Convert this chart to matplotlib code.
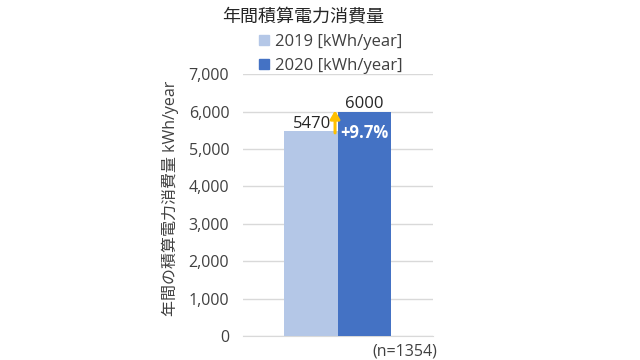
import matplotlib
matplotlib.use("Agg")
import matplotlib.pyplot as plt
from matplotlib.patches import Patch

plt.rcParams['font.family'] = ['Open Sans', 'Noto Sans CJK JP', 'DejaVu Sans']

years = ["2019 [kWh/year]", "2020 [kWh/year]"]
values = [5470, 6000]
colors = ["#B4C7E7", "#4472C4"]
change_label = "+9.7%"
yticks = [0, 1000, 2000, 3000, 4000, 5000, 6000, 7000]
title = "年間積算電力消費量"
ylabel = "年間の積算電力消費量 kWh/year"
note = "(n=1354)"

fig = plt.figure(figsize=(6.4, 3.6), dpi=100)
ax = fig.add_axes([0.380, 0.0667, 0.297, 0.7273])

xs = [0, 1]
ax.bar(xs, values, width=1.0, color=colors, zorder=3)
ax.set_xlim(-1.259, 2.278)
ax.set_ylim(0, 7000)
ax.set_yticks(yticks)
ax.set_yticklabels([f"{v:,}" for v in yticks], fontsize=11.5, color="#404040")
ax.set_xticks([])
ax.grid(axis="y", color="#D9D9D9", linewidth=1, zorder=0)
for s in ["top", "right", "left"]:
    ax.spines[s].set_visible(False)
ax.spines["bottom"].set_color("#D9D9D9")
ax.tick_params(axis="y", length=0, pad=10)
ax.set_ylabel(ylabel, fontsize=11.5, color="#404040")
ax.yaxis.set_label_coords(-0.337, 0.527)

# value labels
ax.text(0.37, values[0] + 100, str(values[0]), ha="right", va="baseline", fontsize=12, color="#262626")
ax.text(1.0, values[1] + 100, str(values[1]), ha="center", va="baseline", fontsize=12, color="#262626")
ax.text(1.0, values[1] - 580, change_label, ha="center", va="center", fontsize=12,
        color="white", fontweight="bold")
ax.annotate("", xy=(0.45, values[1] + 30), xytext=(0.45, values[0] - 40),
            arrowprops=dict(arrowstyle="-|>,head_length=0.6,head_width=0.35", color="#FFC000",
                            lw=2.2, mutation_scale=8, shrinkA=0, shrinkB=0), zorder=5)

fig.text(0.473, 0.953, title, ha="center", va="center", fontsize=13, color="#262626")
handles = [Patch(color=c) for c in colors]
fig.legend(handles, years, loc="upper left", bbox_to_anchor=(0.382, 0.948), frameon=False,
           fontsize=12, handlelength=0.55, handleheight=0.55, handletextpad=0.4, labelspacing=0.5,
           labelcolor="#404040")
fig.text(0.683, 0.025, note, ha="right", va="center", fontsize=11.5, color="#404040")

fig.savefig("out.png", dpi=100)
